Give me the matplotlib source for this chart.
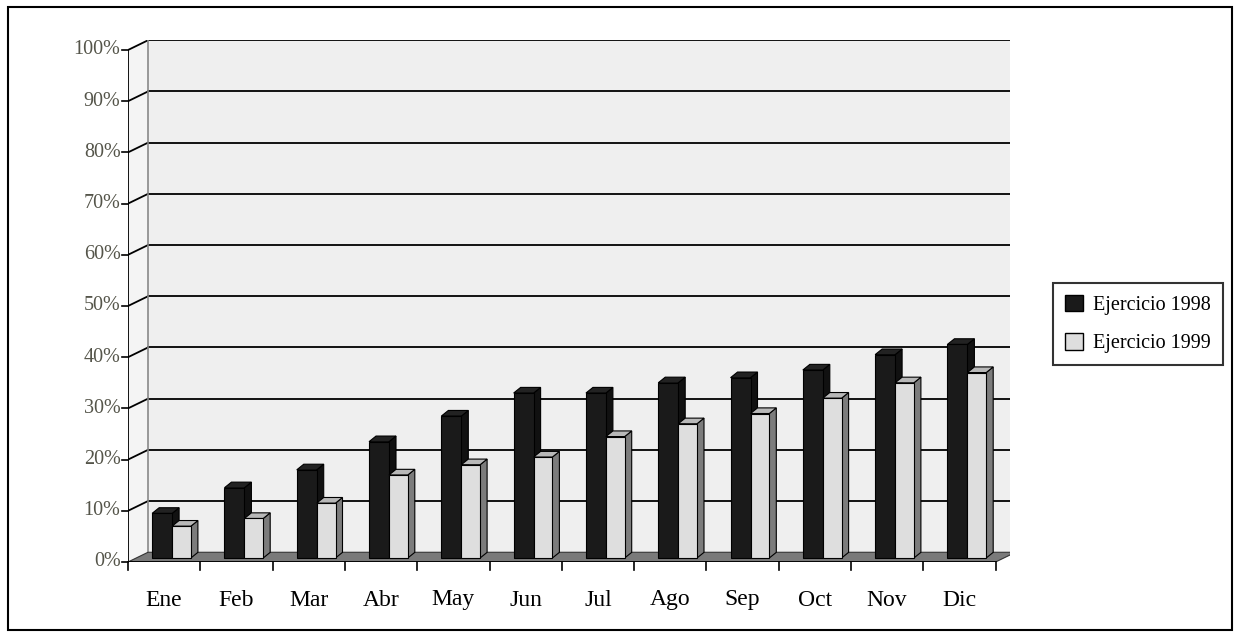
import numpy as np
import matplotlib
matplotlib.use("Agg")
import matplotlib.pyplot as plt
from matplotlib.patches import Polygon, Rectangle, Patch

months = ["Ene", "Feb", "Mar", "Abr", "May", "Jun", "Jul", "Ago", "Sep", "Oct", "Nov", "Dic"]
ej1998 = [9.5, 14.5, 18.0, 23.5, 28.5, 33.0, 33.0, 35.0, 36.0, 37.5, 40.5, 42.5]
ej1999 = [7.0, 8.5, 11.5, 17.0, 19.0, 20.5, 24.5, 27.0, 29.0, 32.0, 35.0, 37.0]
yticks = list(range(0, 101, 10))

plt.rcParams["font.family"] = ["Liberation Serif", "DejaVu Serif"]

W, H = 1240, 637
fig = plt.figure(figsize=(W / 100, H / 100), dpi=100)
px_x = 72.3          # pixels per category
px_y = 5.12          # pixels per percent
x0, y0 = 128, 562    # front origin in pixels
ax = fig.add_axes([x0 / W, (H - y0) / H, 882 / W, 522 / H])
ax.set_xlim(0, 882 / px_x)
ax.set_ylim(0, 522 / px_y)
ax.axis("off")

n = len(months)
# wall offset (perspective depth)
wdx, wdy = 20 / px_x, 1.9
xend = n
# back wall
ax.add_patch(Polygon([(wdx, wdy), (xend + wdx, wdy), (xend + wdx, 100 + wdy), (wdx, 100 + wdy)],
                     closed=True, facecolor="#efefef", edgecolor="none", zorder=1))
# left wall
ax.add_patch(Polygon([(0, 0), (wdx, wdy), (wdx, 100 + wdy), (0, 100)],
                     closed=True, facecolor="#f4f4f4", edgecolor="none", zorder=1))
# floor
ax.add_patch(Polygon([(0, 0), (xend, 0), (xend + wdx, wdy), (wdx, wdy)],
                     closed=True, facecolor="#7a7a7a", edgecolor="#333333", lw=0.8, zorder=2))
for v in yticks[1:]:
    ax.plot([wdx, xend + wdx], [v + wdy, v + wdy], color="black", lw=1.3, zorder=1.5)
    ax.plot([0, wdx], [v, v + wdy], color="black", lw=1.3, zorder=1.5)
ax.plot([wdx, wdx], [wdy, 100 + wdy], color="#888888", lw=1.2, zorder=1.5)
ax.plot([xend + wdx, xend + wdx], [wdy, 100 + wdy], color="#888888", lw=1.2, zorder=1.5)

# front axes
ax.plot([0, 0], [0, 100], color="black", lw=1.3, zorder=5)
ax.plot([0, xend], [0, 0], color="black", lw=1.3, zorder=5)
tl = 6 / px_x
for v in yticks:
    ax.plot([-tl, 0], [v, v], color="black", lw=1.2, clip_on=False, zorder=5)
    ax.text(-tl - 0.02, v, f"{v}%", ha="right", va="center", fontsize=14.5,
            color="#55554a", clip_on=False)
for i in range(n + 1):
    ax.plot([i, i], [0, -8 / px_y], color="black", lw=1.2, clip_on=False, zorder=5)
for i, m in enumerate(months):
    ax.text(i + 0.5, -38 / px_y, m, ha="center", va="center", fontsize=17, clip_on=False)

# bars
bdx, bdy = 7 / px_x, 1.1
base = 4 / px_y


def bar3d(xl, xr, h, front, side, top, z):
    ax.add_patch(Polygon([(xr, base), (xr + bdx, base + bdy), (xr + bdx, h + bdy), (xr, h)],
                         facecolor=side, edgecolor="black", lw=0.8, zorder=z))
    ax.add_patch(Polygon([(xl, h), (xr, h), (xr + bdx, h + bdy), (xl + bdx, h + bdy)],
                         facecolor=top, edgecolor="black", lw=0.8, zorder=z))
    ax.add_patch(Rectangle((xl, base), xr - xl, h - base, facecolor=front,
                           edgecolor="black", lw=0.8, zorder=z + 0.1))


for i in range(n):
    c = i + 0.5
    bar3d(c - 0.166, c + 0.11, ej1998[i], "#1a1a1a", "#111111", "#222222", 3)
    bar3d(c + 0.11, c + 0.37, ej1999[i], "#dedede", "#7c7c7c", "#b8b8b8", 4)

handles = [Patch(facecolor="#1a1a1a", edgecolor="black", label="Ejercicio 1998"),
           Patch(facecolor="#dedede", edgecolor="black", label="Ejercicio 1999")]
leg = fig.legend(handles=handles, loc="center left", bbox_to_anchor=(1053 / W, 1 - 324 / H),
                 frameon=True, fancybox=False, edgecolor="black", fontsize=14.5,
                 handlelength=0.9, handleheight=0.9, borderpad=0.6, labelspacing=0.9,
                 handletextpad=0.5, borderaxespad=0)
leg.get_frame().set_linewidth(1.5)

fig.add_artist(Rectangle((8 / W, 7 / H), 1224 / W, 623 / H, transform=fig.transFigure,
                         fill=False, edgecolor="black", lw=1.5))

fig.savefig("out.png", dpi=100)
